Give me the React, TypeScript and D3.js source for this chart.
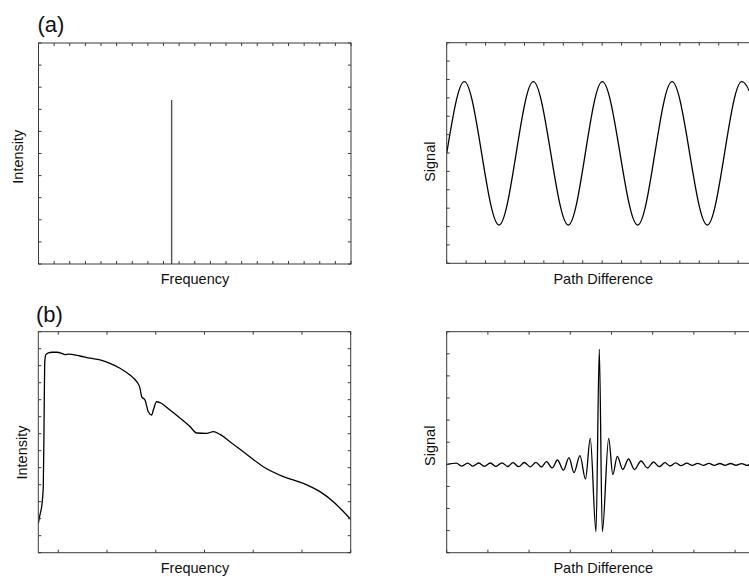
import React from 'react';
import * as d3 from 'd3';

// ---------- DATA ----------
// (a) monochromatic source: single spectral line
const monoFrequency = [8.52];
const monoIntensity = [7.42];

// (a) interferogram of the monochromatic source (turning points)
const cosPathDiff = [0, 0.906, 2.692, 4.457, 6.258, 8.008, 9.83, 11.596, 13.412, 15.183, 16.974];
const cosSignal = [5.98, 9.88, 2.08, 9.88, 2.08, 9.88, 2.08, 9.88, 2.08, 9.88, 2.08];

// (b) broadband spectrum
const bbFrequency = [
  -0.41, -0.376, -0.341, -0.32, -0.308, -0.293, -0.279, -0.259, -0.205, -0.129, -0.033,
  0.07, 0.137, 0.205, 0.445, 0.651, 0.856, 1.061, 1.266, 1.471, 1.609, 1.677, 1.711,
  1.779, 1.847, 1.917, 1.95, 2.019, 2.087, 2.292, 2.497, 2.702, 2.84, 3.045, 3.181,
  3.318, 3.523, 3.796, 4.207, 4.617, 5.028, 5.37, 5.643, 5.82, 6.0,
];
const bbIntensity = [
  1.72, 2.22, 2.71, 3.29, 3.88, 7.22, 11.14, 11.63, 11.76, 11.79, 11.79,
  11.73, 11.65, 11.68, 11.57, 11.44, 11.34, 11.14, 10.85, 10.45, 10.06, 9.67, 9.18,
  8.98, 8.29, 8.1, 8.39, 8.88, 8.83, 8.39, 7.92, 7.42, 7.04, 7.02, 7.12,
  6.96, 6.53, 5.94, 5.06, 4.48, 4.08, 3.59, 3.0, 2.51, 1.96,
];

// (b) interferogram of the broadband source (turning points)
const igPathDiff = [
  0, 0.233, 0.371, 0.51, 0.638, 0.777, 0.913, 1.058, 1.197, 1.342, 1.481, 1.609, 1.748,
  1.883, 2.029, 2.167, 2.299, 2.422, 2.561, 2.689, 2.833, 2.968, 3.09, 3.235, 3.369,
  3.485, 3.624, 3.704, 3.777, 3.932, 4.032, 4.141, 4.274, 4.413, 4.558, 4.716, 4.874,
  5.019, 5.16, 5.299, 5.42, 5.558, 5.687, 5.825, 5.961, 6.092, 6.228, 6.367, 6.495,
  6.633, 6.755, 6.893, 7.022, 7.16, 7.282, 7.422, 7.544,
];
const igSignal = [
  3.982, 4.05, 3.919, 4.054, 3.914, 4.059, 3.91, 4.059, 3.905, 4.068, 3.9, 4.072, 3.891,
  4.081, 3.887, 4.09, 3.878, 4.118, 3.837, 4.195, 3.733, 4.299, 3.62, 4.389, 3.335,
  5.176, 0.95, 9.204, 0.95, 5.176, 3.538, 4.362, 3.765, 4.24, 3.765, 4.149, 3.833,
  4.104, 3.891, 4.072, 3.923, 4.068, 3.937, 4.05, 3.95, 4.045, 3.955, 4.041, 3.955,
  4.036, 3.955, 4.036, 3.955, 4.032, 3.955, 4.032, 3.955,
];

// tick values
const tlXTicks = d3.range(0, 21);
const tlYTicks = d3.range(0, 11);
const trXTicks = d3.range(0, 17);
const trYTicks = d3.range(0, 13);
const blXTicks = d3.range(0, 7);
const blYTicks = d3.range(0, 14);
const brXTicks = d3.range(0, 8);
const brYTicks = d3.range(0, 11);

// labels
const panelTags = ['(a)', '(b)'];
const xLabels = ['Frequency', 'Path Difference'];
const yLabels = ['Intensity', 'Signal'];

// ---------- LAYOUT ----------
const W = 749;
const H = 577;
const FONT = "'Liberation Sans', Arial, Helvetica, sans-serif";
const FRAME = '#3a3a3a';
const TICK = 3;

type Box = { x0: number; x1: number; y0: number; y1: number };

function Frame({ id, box, xs, ys, xt, yt, children }: any) {
  return (
    <g>
      <defs>
        <clipPath id={id}>
          <rect x={box.x0} y={box.y0} width={box.x1 - box.x0} height={box.y1 - box.y0} />
        </clipPath>
      </defs>
      <g clipPath={`url(#${id})`}>{children}</g>
      <rect
        x={box.x0}
        y={box.y0}
        width={box.x1 - box.x0}
        height={box.y1 - box.y0}
        fill="none"
        stroke={FRAME}
        strokeWidth={1}
      />
      {xt.map((t: number) => {
        const x = xs(t);
        return (
          <g key={'x' + t}>
            <line x1={x} x2={x} y1={box.y1} y2={box.y1 - TICK} stroke={FRAME} strokeWidth={1} />
            <line x1={x} x2={x} y1={box.y0} y2={box.y0 + TICK} stroke={FRAME} strokeWidth={1} />
          </g>
        );
      })}
      {yt.map((t: number) => {
        const y = ys(t);
        return (
          <g key={'y' + t}>
            <line x1={box.x0} x2={box.x0 + TICK} y1={y} y2={y} stroke={FRAME} strokeWidth={1} />
            <line x1={box.x1} x2={box.x1 - TICK} y1={y} y2={y} stroke={FRAME} strokeWidth={1} />
          </g>
        );
      })}
    </g>
  );
}

export default function App() {
  const tl: Box = { x0: 38.5, x1: 351, y0: 43, y1: 264 };
  const tr: Box = { x0: 446.7, x1: 757.6, y0: 42.7, y1: 263.3 };
  const bl: Box = { x0: 38.3, x1: 350.7, y0: 331.7, y1: 552.7 };
  const br: Box = { x0: 446.7, x1: 759.8, y0: 331.7, y1: 552.7 };

  const tlX = d3.scaleLinear().domain([0, 20]).range([tl.x0, tl.x1]);
  const tlY = d3.scaleLinear().domain([0, 10]).range([tl.y1, tl.y0]);
  const trX = d3.scaleLinear().domain([0, 16]).range([tr.x0, tr.x1]);
  const trY = d3.scaleLinear().domain([0, 12]).range([tr.y1, tr.y0]);
  const blX = d3.scaleLinear().domain([-0.41, 6]).range([bl.x0, bl.x1]);
  const blY = d3.scaleLinear().domain([0, 13]).range([bl.y1, bl.y0]);
  const brX = d3.scaleLinear().domain([0, 7.6]).range([br.x0, br.x1]);
  const brY = d3.scaleLinear().domain([0, 10]).range([br.y1, br.y0]);

  const cosPts = cosPathDiff.map((x, i) => [x, cosSignal[i]] as [number, number]);
  const bbPts = bbFrequency.map((x, i) => [x, bbIntensity[i]] as [number, number]);
  const igPts = igPathDiff.map((x, i) => [x, igSignal[i]] as [number, number]);

  const cosLine = d3
    .line<[number, number]>()
    .x((d) => trX(d[0]))
    .y((d) => trY(d[1]))
    .curve(d3.curveMonotoneX);
  const bbLine = d3
    .line<[number, number]>()
    .x((d) => blX(d[0]))
    .y((d) => blY(d[1]))
    .curve(d3.curveMonotoneX);
  const igLine = d3
    .line<[number, number]>()
    .x((d) => brX(d[0]))
    .y((d) => brY(d[1]))
    .curve(d3.curveMonotoneX);

  const labelStyle = { fontFamily: FONT, fontSize: 14.5, fill: '#111' };
  const tagStyle = { fontFamily: FONT, fontSize: 22, fill: '#111' };

  return (
    <svg
      width={W}
      height={H}
      style={{ position: 'absolute', left: 0, top: 0, background: '#fff' }}
    >
      <rect x={0} y={0} width={W} height={H} fill="#fff" />

      {/* (a) spectrum */}
      <Frame id="c-tl" box={tl} xs={tlX} ys={tlY} xt={tlXTicks} yt={tlYTicks}>
        {monoFrequency.map((f, i) => (
          <line
            key={i}
            x1={tlX(f)}
            x2={tlX(f)}
            y1={tlY(0)}
            y2={tlY(monoIntensity[i])}
            stroke="#555"
            strokeWidth={1.4}
          />
        ))}
      </Frame>

      {/* (a) interferogram */}
      <Frame id="c-tr" box={tr} xs={trX} ys={trY} xt={trXTicks} yt={trYTicks}>
        <path d={cosLine(cosPts) || ''} fill="none" stroke="#000" strokeWidth={1.3} />
      </Frame>

      {/* (b) spectrum */}
      <Frame id="c-bl" box={bl} xs={blX} ys={blY} xt={blXTicks} yt={blYTicks}>
        <path d={bbLine(bbPts) || ''} fill="none" stroke="#000" strokeWidth={1.3} />
      </Frame>

      {/* (b) interferogram */}
      <Frame id="c-br" box={br} xs={brX} ys={brY} xt={brXTicks} yt={brYTicks}>
        <path d={igLine(igPts) || ''} fill="none" stroke="#000" strokeWidth={1.3} />
      </Frame>

      {/* panel tags */}
      <text x={37.5} y={32} style={tagStyle}>{panelTags[0]}</text>
      <text x={36} y={321.5} style={tagStyle}>{panelTags[1]}</text>

      {/* x labels */}
      <text x={195} y={284} textAnchor="middle" style={labelStyle}>{xLabels[0]}</text>
      <text x={603.3} y={284} textAnchor="middle" style={labelStyle}>{xLabels[1]}</text>
      <text x={195} y={573} textAnchor="middle" style={labelStyle}>{xLabels[0]}</text>
      <text x={603.3} y={573} textAnchor="middle" style={labelStyle}>{xLabels[1]}</text>

      {/* y labels */}
      <text
        transform="translate(22.5,156.7) rotate(-90)"
        textAnchor="middle"
        style={labelStyle}
      >
        {yLabels[0]}
      </text>
      <text
        transform="translate(26.5,452.5) rotate(-90)"
        textAnchor="middle"
        style={labelStyle}
      >
        {yLabels[0]}
      </text>
      <text
        transform="translate(435,161.7) rotate(-90)"
        textAnchor="middle"
        style={labelStyle}
      >
        {yLabels[1]}
      </text>
      <text
        transform="translate(435,445.8) rotate(-90)"
        textAnchor="middle"
        style={labelStyle}
      >
        {yLabels[1]}
      </text>
    </svg>
  );
}
